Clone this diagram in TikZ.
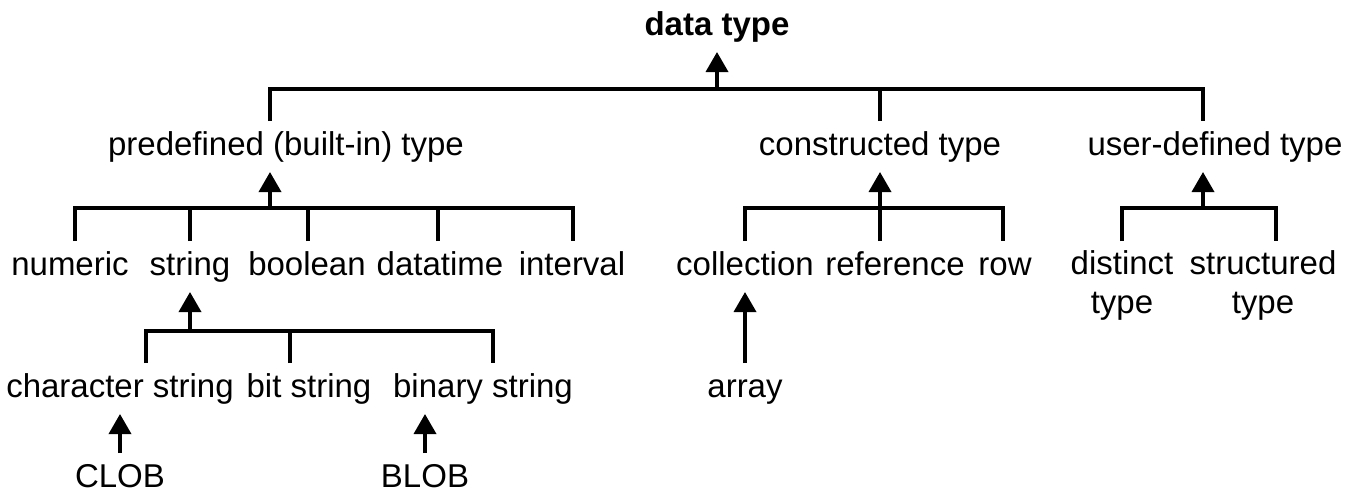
\documentclass[tikz,border=0pt]{standalone}
\usepackage{fontspec}
\setmainfont{Liberation Sans}
\usetikzlibrary{arrows.meta}

\begin{document}
\begin{tikzpicture}[x=1pt,y=-1pt,
  font=\fontsize{33}{39}\selectfont,
  lbl/.style={anchor=base, inner sep=0pt, outer ysep=10pt,
              text height=24pt, text depth=7pt},
  twoline/.style={anchor=north, align=center, inner sep=0pt, outer ysep=10pt},
  link/.style={line width=3.6pt, line cap=butt},
  up/.style={link, -{Triangle[width=22pt,length=20pt]}}]
\useasboundingbox (0,0) rectangle (1361,499);

% root
\node[lbl, font=\fontsize{33}{40}\selectfont\bfseries] (dt) at (717,35) {data type};

% first level
\node[lbl] (pre) at (286,155) {predefined (built-in) type};
\node[lbl] (con) at (880,155) {constructed type};
\node[lbl] (usr) at (1215,155) {user-defined type};

% predefined types
\node[lbl] (num) at (70,275) {numeric};
\node[lbl] (str) at (190,275) {string};
\node[lbl] (boo) at (307,275) {boolean};
\node[lbl] (dat) at (440,275) {datatime};
\node[lbl] (itv) at (572,275) {interval};

% constructed types
\node[lbl] (col) at (745,275) {collection};
\node[lbl] (ref) at (895,275) {reference};
\node[lbl] (row) at (1005,275) {row};

% user-defined types
\node[twoline] (dis) at (1122,241) {distinct\\type};
\node[twoline] (stru) at (1263,241) {structured\\type};

% string types
\node[lbl] (chr) at (120,397) {character string};
\node[lbl] (bit) at (309,397) {bit string};
\node[lbl] (bin) at (483,397) {binary string};
\node[lbl] (arr) at (745,397) {array};

% large objects
\node[lbl] (clob) at (120,487) {CLOB};
\node[lbl] (blob) at (425,487) {BLOB};

% junction points of the brackets
\coordinate (j0) at (717,89);
\coordinate (j1) at (270,208);
\coordinate (j2) at (880,208);
\coordinate (j3) at (1203,208);
\coordinate (j4) at (190,331);

% root bracket
\draw[link] ([xshift=-16pt]pre.north) |- (j0) -| ([xshift=-12pt]usr.north);
\draw[link] (con.north) -- (con.north |- j0);
\draw[up] (j0) -- (dt.south);

% predefined bracket
\draw[link] ([xshift=5pt]num.north) |- (j1) -| ([xshift=1pt]itv.north);
\draw[link] (str.north) -- (str.north |- j1);
\draw[link] ([xshift=1pt]boo.north) -- ([xshift=1pt]boo.north |- j1);
\draw[link] ([xshift=-2pt]dat.north) -- ([xshift=-2pt]dat.north |- j1);
\draw[up] (j1) -- (j1 |- pre.south);

% constructed bracket
\draw[link] (col.north) |- (j2) -| ([xshift=-2pt]row.north);
\draw[link] (j2 |- ref.north) -- (j2);
\draw[up] (j2) -- (con.south);

% user-defined bracket
\draw[link] (dis.north) |- (j3) -| ([xshift=13pt]stru.north);
\draw[up] (j3) -- (j3 |- usr.south);

% string bracket
\draw[link] ([xshift=26pt]chr.north) |- (j4) -| ([xshift=10pt]bin.north);
\draw[link] ([xshift=-19pt]bit.north) -- ([xshift=-19pt]bit.north |- j4);
\draw[up] (j4) -- (str.south);

% single arrows
\draw[up] (arr.north) -- (col.south);
\draw[up] (clob.north) -- (chr.south);
\draw[up] (blob.north) -- (blob.north |- bin.south);
\end{tikzpicture}
\end{document}
